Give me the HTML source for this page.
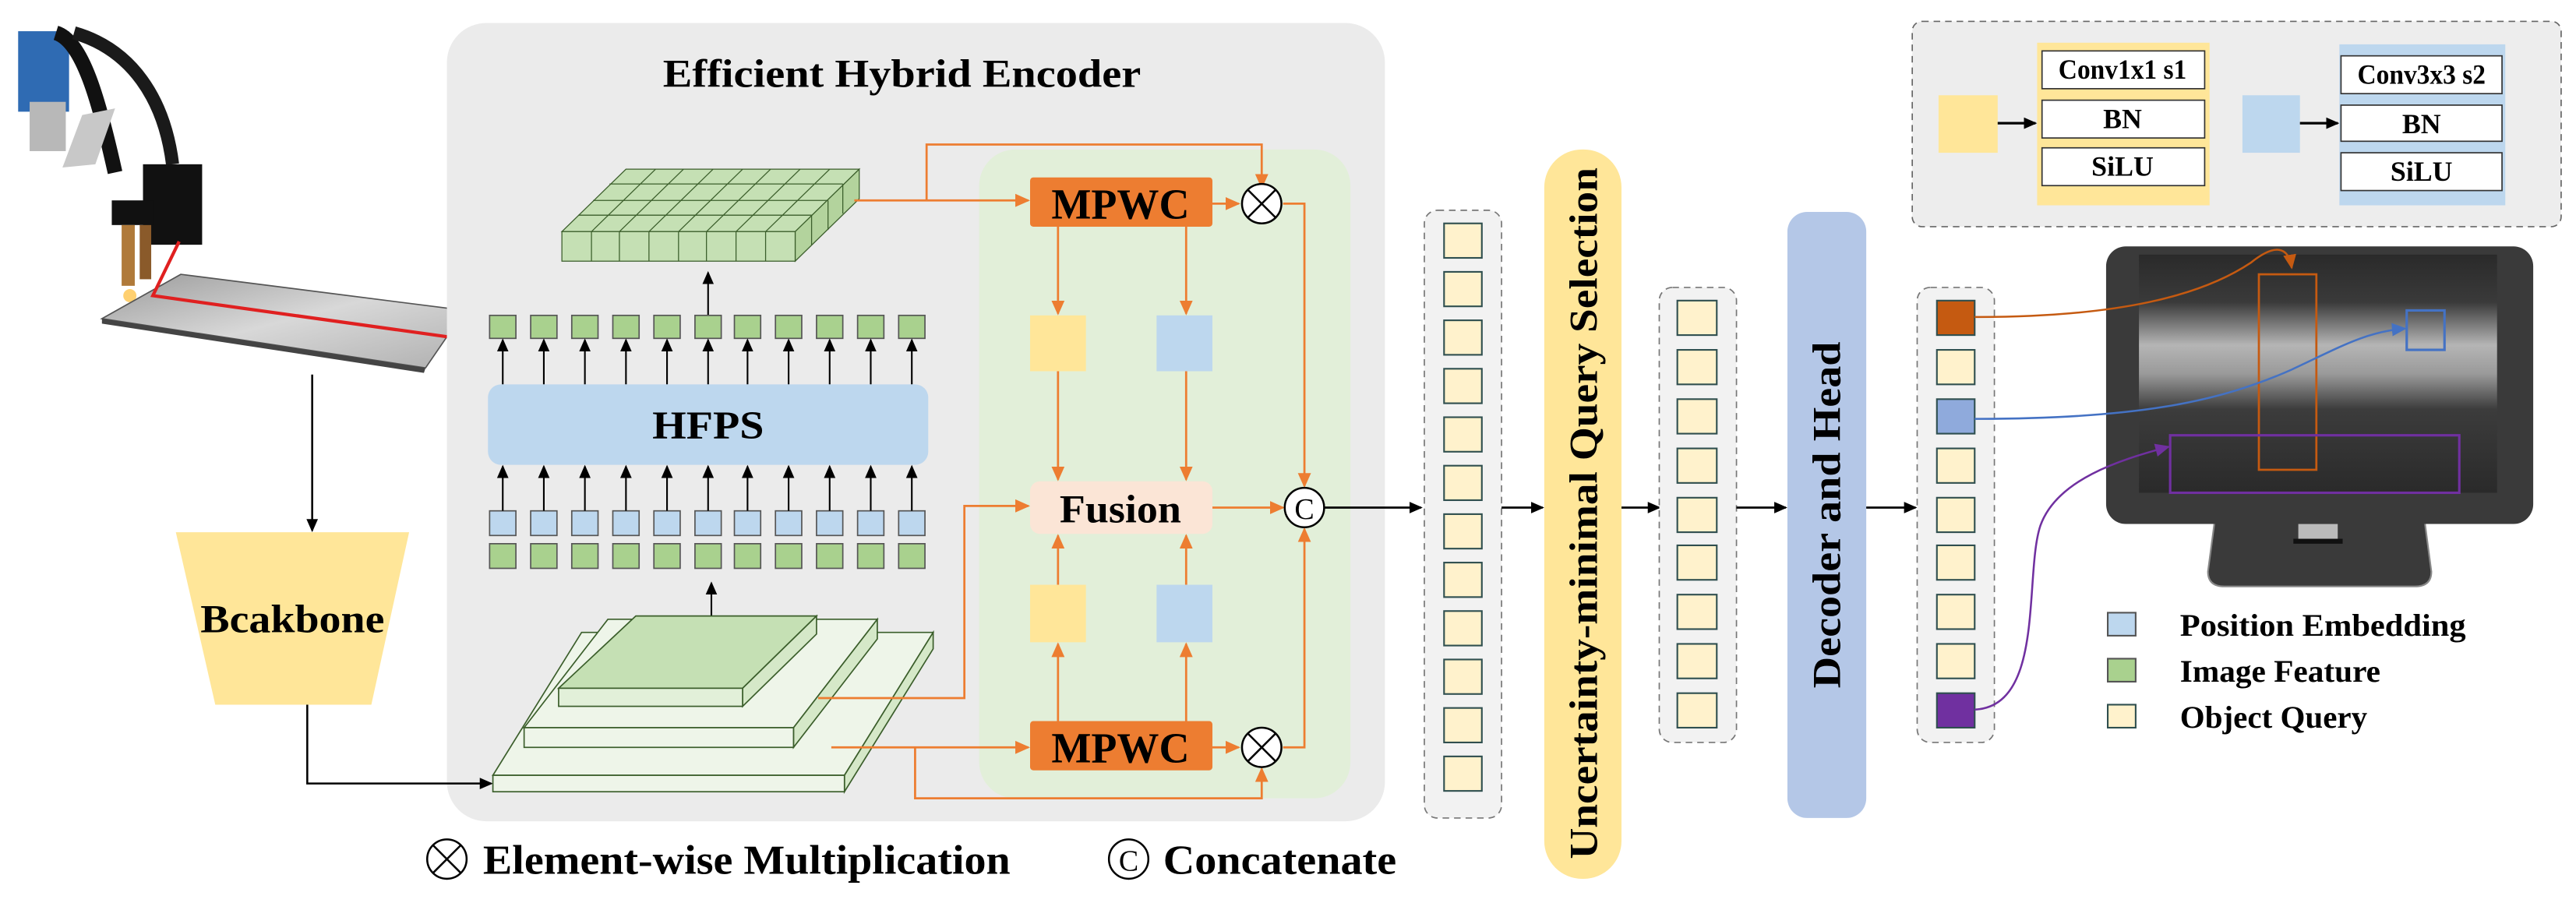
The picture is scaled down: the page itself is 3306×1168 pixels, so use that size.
<!DOCTYPE html>
<html><head><meta charset="utf-8"><style>html,body{margin:0;padding:0;background:#fff}svg{display:block}</style></head>
<body>
<svg width="3306" height="1168" viewBox="0 0 1568 554" xmlns="http://www.w3.org/2000/svg" font-family="'Liberation Serif', serif" font-weight="bold">
<defs>
<marker id="ak" markerWidth="8" markerHeight="8" refX="7" refY="4" orient="auto" markerUnits="userSpaceOnUse"><path d="M0,0.5 L8,4 L0,7.5 Z" fill="#000"/></marker>
<marker id="ao" markerWidth="9" markerHeight="9" refX="8" refY="4.5" orient="auto" markerUnits="userSpaceOnUse"><path d="M0,0.5 L9,4.5 L0,8.5 Z" fill="#ed7d31"/></marker>
<marker id="ac" markerWidth="9" markerHeight="9" refX="8" refY="4.5" orient="auto" markerUnits="userSpaceOnUse"><path d="M0,0.5 L9,4.5 L0,8.5 Z" fill="#c55a11"/></marker>
<marker id="ab" markerWidth="9" markerHeight="9" refX="8" refY="4.5" orient="auto" markerUnits="userSpaceOnUse"><path d="M0,0.5 L9,4.5 L0,8.5 Z" fill="#4472c4"/></marker>
<marker id="ap" markerWidth="9" markerHeight="9" refX="8" refY="4.5" orient="auto" markerUnits="userSpaceOnUse"><path d="M0,0.5 L9,4.5 L0,8.5 Z" fill="#7030a0"/></marker>
<linearGradient id="plate" x1="0" y1="0" x2="1" y2="1"><stop offset="0" stop-color="#9a9a9a"/><stop offset="0.5" stop-color="#d8d8d8"/><stop offset="1" stop-color="#b0b0b0"/></linearGradient>
<linearGradient id="scr" x1="0" y1="0" x2="0" y2="1"><stop offset="0" stop-color="#2a2a2a"/><stop offset="0.2" stop-color="#3a3a3a"/><stop offset="0.38" stop-color="#b5b5b5"/><stop offset="0.5" stop-color="#9a9a9a"/><stop offset="0.65" stop-color="#3c3c3c"/><stop offset="1" stop-color="#2a2a2a"/></linearGradient>
</defs>

<!-- robot photo -->
<rect x="11" y="19" width="31" height="49" fill="#2f6bb3"/>
<path d="M34,20 C50,25 60,60 70,105" stroke="#111" stroke-width="9" fill="none"/>
<path d="M45,20 C80,30 100,60 105,100" stroke="#1a1a1a" stroke-width="8" fill="none"/>
<rect x="18" y="62" width="22" height="30" fill="#b8b8b8"/>
<path d="M50,70 L70,66 L58,100 L38,102 Z" fill="#c8c8c8"/>
<rect x="87" y="100" width="36" height="49" fill="#111"/>
<rect x="68" y="122" width="25" height="15" fill="#111"/>
<rect x="74" y="137" width="8" height="37" fill="#b07a3a"/>
<rect x="85" y="137" width="7" height="33" fill="#8a5a2a"/>
<circle cx="79" cy="180" r="4" fill="#ffd070"/>
<path d="M62,194 L110,167 L283,189 L259,224 Z" fill="url(#plate)" stroke="#555" stroke-width="0.8"/>
<path d="M62,194 L259,224 L258,227 L62,197 Z" fill="#444"/>
<path d="M109,147 L93,180 L272,205" stroke="#e02020" stroke-width="2" fill="none"/>

<!-- backbone -->
<line x1="190" y1="228" x2="190" y2="323" stroke="#000" stroke-width="1.2" marker-end="url(#ak)"/>
<path d="M107,324 L249,324 L226,429 L131,429 Z" fill="#ffe699"/>
<text x="178" y="385" font-size="24" text-anchor="middle" textLength="112" lengthAdjust="spacingAndGlyphs">Bcakbone</text>

<!-- encoder -->
<rect x="272" y="14" width="571" height="486" rx="24" fill="#ebebeb"/>
<text x="549" y="53" font-size="24" text-anchor="middle" textLength="291" lengthAdjust="spacingAndGlyphs">Efficient Hybrid Encoder</text>
<rect x="596" y="91" width="226" height="395" rx="22" fill="#e2efd9"/>
<path d="M187,429 L187,477 L299,477" stroke="#000" stroke-width="1.2" fill="none" marker-end="url(#ak)"/>

<!-- top grid -->
<g stroke="#3b5e2b" stroke-width="0.6">
<path d="M342,141 L484,141 L523,103 L381,103 Z" fill="#c5e0b4"/>
<path d="M484,141 L523,103 L523,121 L484,159 Z" fill="#b3d39d"/>
<rect x="342" y="141" width="142" height="18" fill="#c5e0b4"/>
<g fill="none">
<path d="M360,141 L399,103 M377,141 L416,103 M395,141 L434,103 M413,141 L452,103 M430,141 L469,103 M448,141 L487,103 M466,141 L505,103"/>
<path d="M352,131 L494,131 M361,122 L504,122 M371,112 L513,112"/>
<path d="M360,141 V159 M377,141 V159 M395,141 V159 M413,141 V159 M430,141 V159 M448,141 V159 M466,141 V159"/>
<path d="M494,131 V149 M504,122 V140 M513,112 V130"/>
</g>
</g>
<line x1="431" y1="192" x2="431" y2="166" stroke="#000" stroke-width="1" marker-end="url(#ak)"/>

<!-- squares rows -->
<g stroke="#555" stroke-width="0.8">
<g fill="#a9d18e">
<rect x="298" y="192" width="16" height="14"/><rect x="323" y="192" width="16" height="14"/><rect x="348" y="192" width="16" height="14"/><rect x="373" y="192" width="16" height="14"/><rect x="398" y="192" width="16" height="14"/><rect x="423" y="192" width="16" height="14"/><rect x="447" y="192" width="16" height="14"/><rect x="472" y="192" width="16" height="14"/><rect x="497" y="192" width="16" height="14"/><rect x="522" y="192" width="16" height="14"/><rect x="547" y="192" width="16" height="14"/>
<rect x="298" y="331" width="16" height="15"/><rect x="323" y="331" width="16" height="15"/><rect x="348" y="331" width="16" height="15"/><rect x="373" y="331" width="16" height="15"/><rect x="398" y="331" width="16" height="15"/><rect x="423" y="331" width="16" height="15"/><rect x="447" y="331" width="16" height="15"/><rect x="472" y="331" width="16" height="15"/><rect x="497" y="331" width="16" height="15"/><rect x="522" y="331" width="16" height="15"/><rect x="547" y="331" width="16" height="15"/>
</g>
<g fill="#bdd7ee">
<rect x="298" y="311" width="16" height="15"/><rect x="323" y="311" width="16" height="15"/><rect x="348" y="311" width="16" height="15"/><rect x="373" y="311" width="16" height="15"/><rect x="398" y="311" width="16" height="15"/><rect x="423" y="311" width="16" height="15"/><rect x="447" y="311" width="16" height="15"/><rect x="472" y="311" width="16" height="15"/><rect x="497" y="311" width="16" height="15"/><rect x="522" y="311" width="16" height="15"/><rect x="547" y="311" width="16" height="15"/>
</g>
</g>
<g stroke="#000" stroke-width="1" marker-end="url(#ak)">
<line x1="306" y1="234" x2="306" y2="207"/><line x1="331" y1="234" x2="331" y2="207"/><line x1="356" y1="234" x2="356" y2="207"/><line x1="381" y1="234" x2="381" y2="207"/><line x1="406" y1="234" x2="406" y2="207"/><line x1="431" y1="234" x2="431" y2="207"/><line x1="455" y1="234" x2="455" y2="207"/><line x1="480" y1="234" x2="480" y2="207"/><line x1="505" y1="234" x2="505" y2="207"/><line x1="530" y1="234" x2="530" y2="207"/><line x1="555" y1="234" x2="555" y2="207"/>
<line x1="306" y1="311" x2="306" y2="284"/><line x1="331" y1="311" x2="331" y2="284"/><line x1="356" y1="311" x2="356" y2="284"/><line x1="381" y1="311" x2="381" y2="284"/><line x1="406" y1="311" x2="406" y2="284"/><line x1="431" y1="311" x2="431" y2="284"/><line x1="455" y1="311" x2="455" y2="284"/><line x1="480" y1="311" x2="480" y2="284"/><line x1="505" y1="311" x2="505" y2="284"/><line x1="530" y1="311" x2="530" y2="284"/><line x1="555" y1="311" x2="555" y2="284"/>
<line x1="433" y1="382" x2="433" y2="355"/>
</g>
<rect x="297" y="234" width="268" height="49" rx="8" fill="#bdd7ee"/>
<text x="431" y="267" font-size="24" text-anchor="middle" textLength="68" lengthAdjust="spacingAndGlyphs">HFPS</text>

<!-- pyramid -->
<g stroke="#3b5e2b" stroke-width="0.8">
<path d="M300,472 L354,385 L568,385 L514,472 Z" fill="#eef5e9"/>
<path d="M514,472 L568,385 L568,395 L514,482 Z" fill="#d5e8c8"/>
<rect x="300" y="472" width="214" height="10" fill="#eef5e9"/>
<path d="M319,443 L370,377 L534,377 L483,443 Z" fill="#eef5e9"/>
<path d="M483,443 L534,377 L534,389 L483,455 Z" fill="#d5e8c8"/>
<rect x="319" y="443" width="164" height="12" fill="#eef5e9"/>
<path d="M340,419 L387,375 L497,375 L452,419 Z" fill="#c5e0b4"/>
<path d="M452,419 L497,375 L497,386 L452,430 Z" fill="#d5e8c8"/>
<rect x="340" y="419" width="112" height="11" fill="#e2f0d9"/>
</g>

<!-- orange connections -->
<g stroke="#ed7d31" stroke-width="1.3" fill="none">
<path d="M520,122 L626,122" marker-end="url(#ao)"/>
<path d="M564,122 L564,88 L768,88 L768,114" marker-end="url(#ao)"/>
<path d="M738,124 L754,124" marker-end="url(#ao)"/>
<path d="M781,124 L794,124 L794,296" marker-end="url(#ao)"/>
<path d="M644,138 L644,191" marker-end="url(#ao)"/>
<path d="M722,138 L722,191" marker-end="url(#ao)"/>
<path d="M644,226 L644,292" marker-end="url(#ao)"/>
<path d="M722,226 L722,292" marker-end="url(#ao)"/>
<path d="M644,356 L644,326" marker-end="url(#ao)"/>
<path d="M722,356 L722,326" marker-end="url(#ao)"/>
<path d="M644,439 L644,392" marker-end="url(#ao)"/>
<path d="M722,439 L722,392" marker-end="url(#ao)"/>
<path d="M738,309 L781,309" marker-end="url(#ao)"/>
<path d="M498,425 L587,425 L587,308 L626,308" marker-end="url(#ao)"/>
<path d="M506,455 L626,455" marker-end="url(#ao)"/>
<path d="M738,455 L754,455" marker-end="url(#ao)"/>
<path d="M781,455 L794,455 L794,322" marker-end="url(#ao)"/>
<path d="M557,455 L557,486 L768,486 L768,468" marker-end="url(#ao)"/>
</g>
<rect x="627" y="108" width="111" height="30" rx="2" fill="#ed7d31"/>
<text x="682" y="133" font-size="26" text-anchor="middle" textLength="84" lengthAdjust="spacingAndGlyphs">MPWC</text>
<rect x="627" y="439" width="111" height="30" rx="2" fill="#ed7d31"/>
<text x="682" y="464" font-size="26" text-anchor="middle" textLength="84" lengthAdjust="spacingAndGlyphs">MPWC</text>
<rect x="627" y="192" width="34" height="34" fill="#ffe699"/>
<rect x="704" y="192" width="34" height="34" fill="#bdd7ee"/>
<rect x="627" y="356" width="34" height="35" fill="#ffe699"/>
<rect x="704" y="356" width="34" height="35" fill="#bdd7ee"/>
<rect x="627" y="293" width="111" height="32" rx="6" fill="#fbe5d6"/>
<text x="682" y="318" font-size="24" text-anchor="middle" textLength="74" lengthAdjust="spacingAndGlyphs">Fusion</text>
<g stroke="#000" stroke-width="1.2" fill="#fff">
<circle cx="768" cy="124" r="12"/><path d="M759.5,115.5 L776.5,132.5 M776.5,115.5 L759.5,132.5"/>
<circle cx="768" cy="455" r="12"/><path d="M759.5,446.5 L776.5,463.5 M776.5,446.5 L759.5,463.5"/>
<circle cx="794" cy="309" r="12"/>
</g>
<text x="794" y="316" font-size="18" font-weight="normal" text-anchor="middle">C</text>
<line x1="806" y1="309" x2="865" y2="309" stroke="#000" stroke-width="1.3" marker-end="url(#ak)"/>

<!-- bottom legend -->
<g stroke="#000" stroke-width="1.2" fill="#fff">
<circle cx="272" cy="523" r="12"/><path d="M263.5,514.5 L280.5,531.5 M280.5,514.5 L263.5,531.5"/>
<circle cx="687" cy="523" r="12"/>
</g>
<text x="687" y="530" font-size="18" font-weight="normal" text-anchor="middle">C</text>
<text x="294" y="532" font-size="25" textLength="321" lengthAdjust="spacingAndGlyphs">Element-wise Multiplication</text>
<text x="708" y="532" font-size="25" textLength="142" lengthAdjust="spacingAndGlyphs">Concatenate</text>

<!-- query column 1 -->
<rect x="867" y="128" width="47" height="370" rx="8" fill="#f2f2f2" stroke="#777" stroke-width="0.8" stroke-dasharray="4,3"/>
<g fill="#fff2cc" stroke="#2f4f4f" stroke-width="1">
<rect x="879" y="136" width="23" height="21"/><rect x="879" y="165.5" width="23" height="21"/><rect x="879" y="195" width="23" height="21"/><rect x="879" y="224.5" width="23" height="21"/><rect x="879" y="254" width="23" height="21"/><rect x="879" y="283.5" width="23" height="21"/><rect x="879" y="313" width="23" height="21"/><rect x="879" y="342.5" width="23" height="21"/><rect x="879" y="372" width="23" height="21"/><rect x="879" y="401.5" width="23" height="21"/><rect x="879" y="431" width="23" height="21"/><rect x="879" y="460.5" width="23" height="21"/>
</g>
<line x1="914" y1="309" x2="939" y2="309" stroke="#000" stroke-width="1.3" marker-end="url(#ak)"/>
<rect x="940" y="91" width="47" height="444" rx="23" fill="#ffe699"/>
<text transform="translate(972,523) rotate(-90)" font-size="24" textLength="421" lengthAdjust="spacingAndGlyphs">Uncertainty-minimal Query Selection</text>
<line x1="987" y1="309" x2="1010" y2="309" stroke="#000" stroke-width="1.3" marker-end="url(#ak)"/>

<!-- column 2 -->
<rect x="1010" y="175" width="47" height="277" rx="8" fill="#f2f2f2" stroke="#777" stroke-width="0.8" stroke-dasharray="4,3"/>
<g fill="#fff2cc" stroke="#2f4f4f" stroke-width="1">
<rect x="1021" y="183" width="24" height="21"/><rect x="1021" y="213" width="24" height="21"/><rect x="1021" y="243" width="24" height="21"/><rect x="1021" y="273" width="24" height="21"/><rect x="1021" y="303" width="24" height="21"/><rect x="1021" y="332" width="24" height="21"/><rect x="1021" y="362" width="24" height="21"/><rect x="1021" y="392" width="24" height="21"/><rect x="1021" y="422" width="24" height="21"/>
</g>
<line x1="1057" y1="309" x2="1087" y2="309" stroke="#000" stroke-width="1.3" marker-end="url(#ak)"/>
<rect x="1088" y="129" width="48" height="369" rx="12" fill="#b4c7e7"/>
<text transform="translate(1120,419) rotate(-90)" font-size="24" textLength="211" lengthAdjust="spacingAndGlyphs">Decoder and Head</text>
<line x1="1136" y1="309" x2="1166" y2="309" stroke="#000" stroke-width="1.3" marker-end="url(#ak)"/>

<!-- column 3 -->
<rect x="1167" y="175" width="47" height="277" rx="8" fill="#f2f2f2" stroke="#777" stroke-width="0.8" stroke-dasharray="4,3"/>
<g stroke="#2f4f4f" stroke-width="1">
<rect x="1179" y="183" width="23" height="21" fill="#c55a11"/><rect x="1179" y="213" width="23" height="21" fill="#fff2cc"/><rect x="1179" y="243" width="23" height="21" fill="#8faadc"/><rect x="1179" y="273" width="23" height="21" fill="#fff2cc"/><rect x="1179" y="303" width="23" height="21" fill="#fff2cc"/><rect x="1179" y="332" width="23" height="21" fill="#fff2cc"/><rect x="1179" y="362" width="23" height="21" fill="#fff2cc"/><rect x="1179" y="392" width="23" height="21" fill="#fff2cc"/><rect x="1179" y="422" width="23" height="21" fill="#7030a0"/>
</g>

<!-- top-right legend box -->
<rect x="1164" y="13" width="395" height="125" rx="6" fill="#ededed" stroke="#666" stroke-width="0.8" stroke-dasharray="4,3"/>
<rect x="1180" y="58" width="36" height="35" fill="#ffe699"/>
<line x1="1216" y1="75" x2="1239" y2="75" stroke="#000" stroke-width="1.5" marker-end="url(#ak)"/>
<rect x="1240" y="26" width="105" height="99" fill="#ffe699"/>
<rect x="1365" y="58" width="35" height="35" fill="#bdd7ee"/>
<line x1="1400" y1="75" x2="1423" y2="75" stroke="#000" stroke-width="1.5" marker-end="url(#ak)"/>
<rect x="1424" y="27" width="101" height="98" fill="#bdd7ee"/>
<g fill="#fff" stroke="#333" stroke-width="0.8">
<rect x="1243" y="31" width="99" height="23"/><rect x="1243" y="61" width="99" height="23"/><rect x="1243" y="90" width="99" height="23"/>
<rect x="1425" y="34" width="98" height="23"/><rect x="1425" y="64" width="98" height="22"/><rect x="1425" y="93" width="98" height="23"/>
</g>
<g font-size="17" text-anchor="middle">
<text x="1292" y="48" textLength="78" lengthAdjust="spacingAndGlyphs">Conv1x1 s1</text><text x="1292" y="78">BN</text><text x="1292" y="107">SiLU</text>
<text x="1474" y="51" textLength="78" lengthAdjust="spacingAndGlyphs">Conv3x3 s2</text><text x="1474" y="81">BN</text><text x="1474" y="110">SiLU</text>
</g>

<!-- monitor -->
<path d="M1348,318 L1476,318 L1480,348 Q1480,357 1470,357 L1354,357 Q1344,357 1344,348 Z" fill="#3a3a3a" stroke="#888" stroke-width="1"/>
<rect x="1399" y="319" width="24" height="10" fill="#bbb"/>
<rect x="1396" y="328" width="30" height="3" fill="#111"/>
<rect x="1282" y="150" width="260" height="169" rx="12" fill="#3a3a3a"/>
<rect x="1302" y="155" width="218" height="145" fill="url(#scr)"/>
<rect x="1375" y="167" width="35" height="119" fill="none" stroke="#c55a11" stroke-width="1.3"/>
<rect x="1465" y="189" width="23" height="24" fill="none" stroke="#4472c4" stroke-width="1.5"/>
<rect x="1321" y="265" width="176" height="35" fill="none" stroke="#7030a0" stroke-width="1.5"/>
<path d="M1202,193 C1290,193 1340,180 1370,160 C1385,148 1393,150 1395,163" fill="none" stroke="#c55a11" stroke-width="1.2" marker-end="url(#ac)"/>
<path d="M1202,255 C1300,255 1350,245 1395,225 C1425,211 1440,202 1464,200" fill="none" stroke="#4472c4" stroke-width="1.2" marker-end="url(#ab)"/>
<path d="M1202,432 C1245,430 1232,350 1242,320 C1252,292 1290,280 1320,272" fill="none" stroke="#7030a0" stroke-width="1.2" marker-end="url(#ap)"/>

<!-- legend -->
<g stroke="#555" stroke-width="1">
<rect x="1283" y="373" width="17" height="14" fill="#bdd7ee"/>
<rect x="1283" y="401" width="17" height="14" fill="#a9d18e"/>
<rect x="1283" y="429" width="17" height="14" fill="#fff2cc" stroke="#2f4f4f"/>
</g>
<g font-size="19">
<text x="1327" y="387" textLength="174" lengthAdjust="spacingAndGlyphs">Position Embedding</text>
<text x="1327" y="415" textLength="122" lengthAdjust="spacingAndGlyphs">Image Feature</text>
<text x="1327" y="443" textLength="114" lengthAdjust="spacingAndGlyphs">Object Query</text>
</g>
</svg>
</body></html>
